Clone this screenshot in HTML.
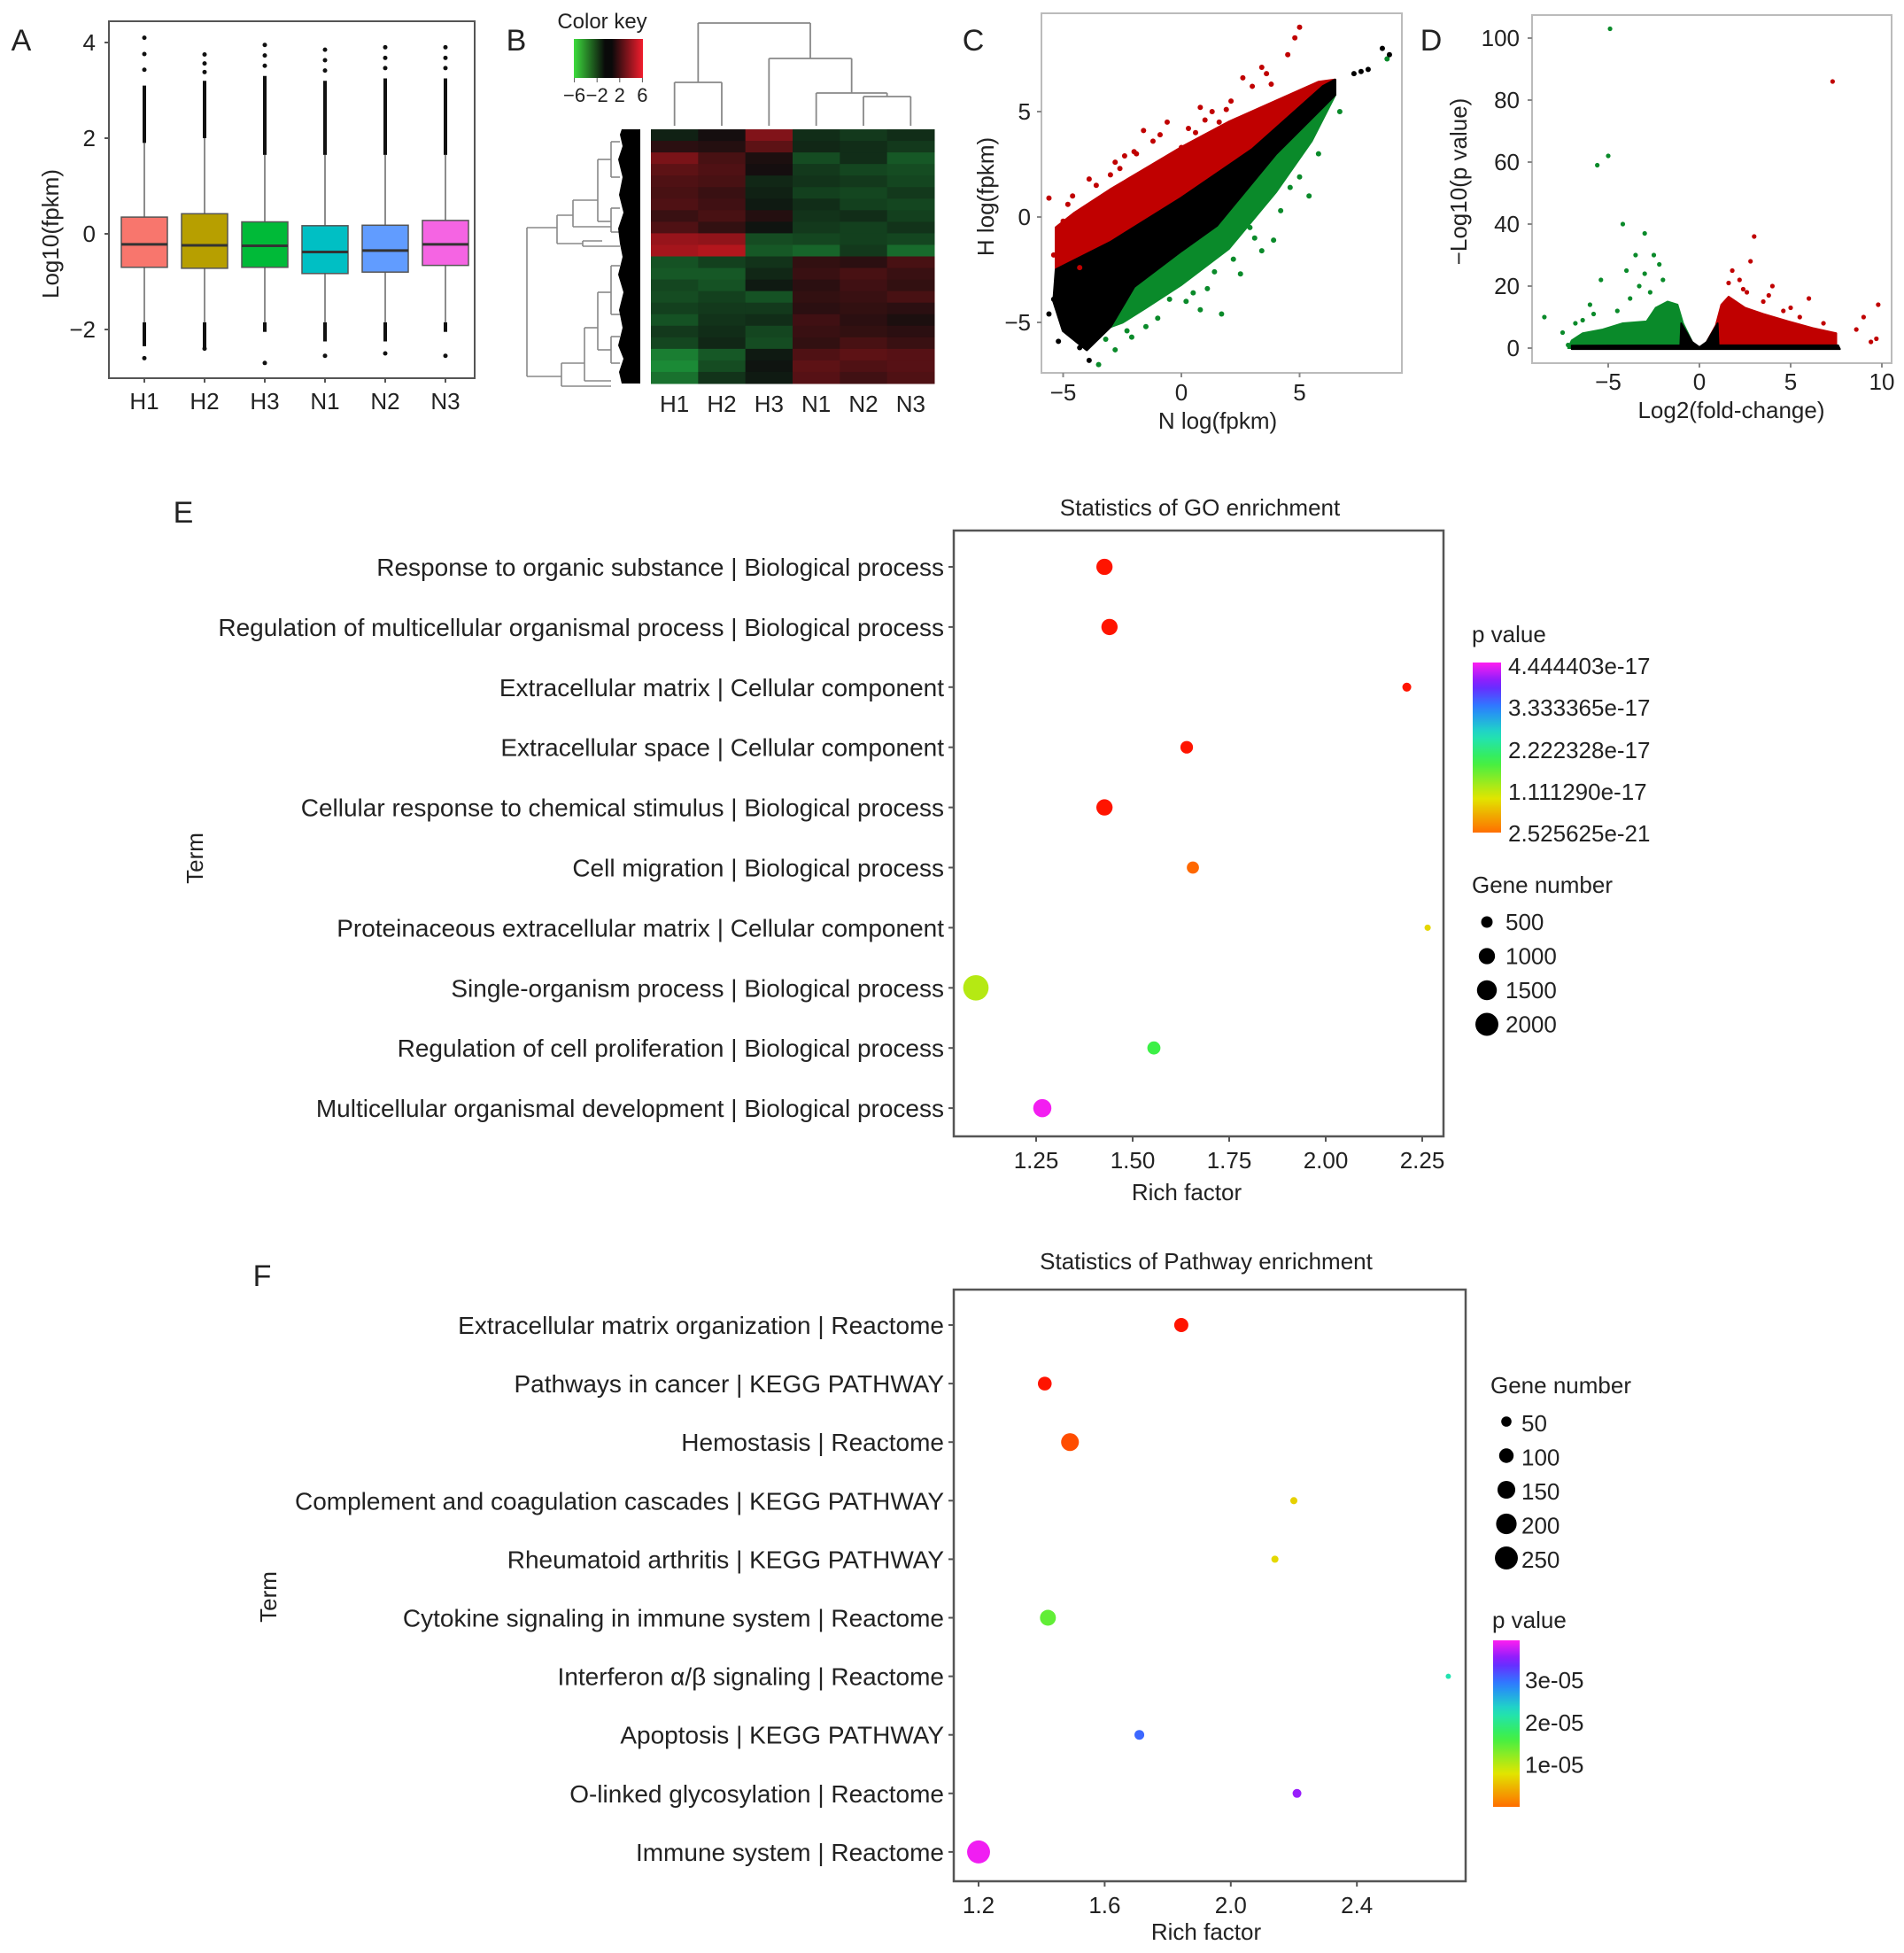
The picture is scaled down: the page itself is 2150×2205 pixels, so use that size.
<!DOCTYPE html>
<html><head><meta charset="utf-8"><style>
html,body{margin:0;padding:0;background:#fff;}
svg{display:block;font-family:"Liberation Sans",Arial,sans-serif;}
</style></head><body>
<svg id="fig" xmlns="http://www.w3.org/2000/svg" width="2150" height="2205" viewBox="0 0 2150 2205">
<rect width="2150" height="2205" fill="#fff"/>
</svg>
<script>
// ===== Panel A data =====
const boxSamples=["H1","H2","H3","N1","N2","N3"];
const boxQ1=[-0.70,-0.72,-0.70,-0.83,-0.80,-0.66];
const boxMed=[-0.22,-0.24,-0.25,-0.38,-0.35,-0.22];
const boxQ3=[0.35,0.42,0.25,0.17,0.18,0.28];
const boxWhiskHi=[1.90,2.00,1.65,1.65,1.65,1.65];
const boxWhiskLo=[-1.85,-1.85,-1.85,-1.85,-1.85,-1.85];
const boxOutHi=[4.10,3.75,3.95,3.85,3.90,3.90];
const boxOutLo=[-2.60,-2.40,-2.70,-2.55,-2.50,-2.55];
const boxDenseHi=[3.10,3.20,3.30,3.20,3.25,3.25];
const boxDenseLo=[-2.35,-2.40,-2.05,-2.25,-2.25,-2.05];
const boxColors=["#f8766d","#b79f00","#00ba38","#00bfc4","#619cff","#f564e3"];
const boxYTicks=[-2,0,2,4];
// ===== Panel B data =====
const heatCols=["H1","H2","H3","N1","N2","N3"];
const heatVals=[
[-0.3,0.1,1.6,-0.5,-0.7,-0.5],
[0.4,0.3,1.1,-0.4,-0.5,-0.7],
[1.5,0.8,0.2,-1.0,-0.5,-1.2],
[1.1,0.9,0.1,-0.7,-0.9,-1.0],
[0.9,0.8,-0.4,-0.6,-0.7,-0.9],
[0.8,0.6,-0.3,-0.8,-0.9,-0.7],
[0.9,0.7,-0.2,-0.5,-0.8,-0.9],
[0.6,0.8,0.3,-0.6,-0.5,-0.8],
[0.9,0.5,-0.1,-0.7,-0.8,-0.6],
[1.9,1.8,-1.0,-0.9,-0.8,-0.9],
[2.1,2.3,-1.2,-1.4,-0.7,-1.5],
[-1.1,-0.8,-0.6,0.5,0.4,0.8],
[-1.2,-1.2,-0.4,0.6,0.8,0.6],
[-0.9,-1.1,-0.2,0.4,0.7,0.5],
[-1.0,-0.8,-1.1,0.5,0.6,0.8],
[-0.8,-0.7,-0.7,0.4,0.5,0.4],
[-1.1,-0.6,-0.5,0.7,0.4,0.2],
[-0.7,-0.5,-0.9,0.6,0.5,0.4],
[-0.9,-0.4,-1.0,0.5,0.8,0.6],
[-1.8,-1.2,-0.2,0.9,1.1,1.0],
[-2.0,-1.0,-0.1,1.1,0.9,1.0],
[-1.6,-0.6,-0.2,1.0,0.7,0.9]
];
const keyTicks=[-6,-2,2,6];
// ===== Panel C data =====
const cTicksX=[-5,0,5], cTicksY=[-5,0,5];
const cRedPoly=[[-5.3,-0.5],[-4.5,0.2],[-3,1.3],[-1.5,2.3],[0,3.3],[2,4.5],[4.6,5.8],[5.8,6.4],[6.5,6.5],[6,6.2],[3,3.2],[0,0.9],[-3,-1.2],[-5.3,-2.5]];
const cBlackPoly=[[-5.3,-2.5],[-3,-1.2],[0,0.9],[3,3.2],[6,6.2],[6.5,6.5],[6.5,5.8],[4,3.0],[1.5,-0.4],[0,-1.6],[-2,-3.3],[-3,-5.2],[-4,-6.3],[-5,-5.4],[-5.4,-4.0]];
const cGreenPoly=[[-3,-5.2],[-2,-3.3],[0,-1.6],[1.5,-0.4],[4,3.0],[6.5,5.8],[5.5,3.6],[4,1.2],[2,-1.5],[0,-3.2],[-1.5,-4.3],[-2.5,-5.0]];
const cRedX=[-5.6,-4.8,-4.0,-3.6,-3.0,-2.6,-2.0,-1.2,-0.6,-0.4,0.3,0.8,1.3,1.6,2.1,2.6,3.0,3.4,3.8,4.5,4.8,5.0,-4.3,-3.3,-2.2,-1.6,0.0,-5.0,-4.6,-3.9,-2.8,-1.9,-0.9,0.6,1.9,3.6,-5.4,-2.4,1.0];
const cRedY=[0.9,0.6,0.2,1.5,2.0,2.3,3.1,3.6,4.5,2.8,4.2,5.2,5.0,4.5,5.5,6.6,6.2,7.1,6.3,7.7,8.5,9.0,-2.4,0.8,1.6,4.1,3.3,-0.2,1.0,1.8,2.6,3.0,3.9,4.0,5.1,6.8,-1.8,2.9,4.6];
const cGreenX=[-3.5,-2.8,-2.1,-1.0,0.2,1.1,1.7,2.5,3.4,3.9,4.6,5.4,6.7,8.7,-1.5,0.8,2.9,-3.2,-2.3,-0.5,0.5,1.4,2.2,3.1,4.2,5.0,5.8];
const cGreenY=[-7.0,-6.3,-5.7,-4.8,-4.0,-3.4,-4.6,-2.7,-1.6,-1.1,1.4,1.0,5.0,7.5,-5.2,-4.4,-0.5,-5.8,-5.4,-3.9,-3.6,-2.6,-2.0,-1.0,0.3,1.9,3.0];
const cBlackX=[-5.4,-4.9,-4.3,-3.9,-3.6,-4.6,7.3,7.6,7.9,8.5,8.8,-5.0,-5.6,-5.2];
const cBlackY=[-3.9,-4.2,-6.2,-6.8,-5.5,-5.0,6.8,6.9,7.0,8.0,7.7,-3.0,-4.6,-5.9];
// ===== Panel D data =====
const dTicksX=[-5,0,5,10], dTicksY=[0,20,40,60,80,100];
const dGreenPoly=[[-7.2,0],[-7.0,2.5],[-6.4,4.8],[-5.3,6],[-4.2,8],[-2.9,8.6],[-2.4,13],[-1.75,15],[-1.2,14],[-0.9,8],[-0.4,2],[-0.6,0]];
const dRedPoly=[[0.6,0],[0.4,2],[0.9,7.3],[1.2,14],[1.6,16.6],[2.5,13],[3.5,11],[4.9,8.6],[6.2,6.5],[7.5,4.8],[7.5,1],[7.3,0]];
const dBlackPoly=[[-1.0,8],[-0.4,2],[0,0.3],[0.4,2],[1.0,8],[1.05,0.9],[7.6,0.9],[7.7,-0.3],[-7.0,-0.3],[-7.0,0.8],[-1.05,0.9]];
const dGreenX=[-4.9,-5.0,-5.6,-4.2,-3.0,-2.5,-3.5,-2.2,-4.0,-8.5,-5.4,-6.0,-7.5,-3.3,-2.7,-4.5,-6.8,-7.2,-3.8,-2.0,-3.0,-6.4,-5.8];
const dGreenY=[103,62,59,40,37,30,30,27,25,10,22,14,5,20,18,12,8,1,16,22,24,9,11];
const dRedX=[7.3,3.0,2.8,1.8,2.2,4.0,6.0,9.8,9.0,5.5,9.7,2.6,3.5,4.6,6.8,8.6,9.4,1.6,2.4,3.8,5.0];
const dRedY=[86,36,28,25,22,20,16,14,10,10,3,18,15,12,8,6,2,21,19,17,13];
// ===== Panel E data =====
const goTerms=["Response to organic substance | Biological process","Regulation of multicellular organismal process | Biological process","Extracellular matrix | Cellular component","Extracellular space | Cellular component","Cellular response to chemical stimulus | Biological process","Cell migration | Biological process","Proteinaceous extracellular matrix | Cellular component","Single-organism process | Biological process","Regulation of cell proliferation | Biological process","Multicellular organismal development | Biological process"];
const goRich=[1.427,1.44,2.21,1.64,1.427,1.656,2.264,1.094,1.555,1.266];
const goGenes=[1000,1000,300,600,1000,560,150,2450,650,1250];
const goP=[0.0,0.0,0.0,0.0,0.0,0.25,1.0,1.35,2.0,4.4]; // e-17
const goTicks=[1.25,1.50,1.75,2.00,2.25];
const goTickLabels=["1.25","1.50","1.75","2.00","2.25"];
const goPLegend=["4.444403e-17","3.333365e-17","2.222328e-17","1.111290e-17","2.525625e-21"];
const goSizeLegend=[500,1000,1500,2000];
// ===== Panel F data =====
const pwTerms=["Extracellular matrix organization | Reactome","Pathways in cancer | KEGG PATHWAY","Hemostasis | Reactome","Complement and coagulation cascades | KEGG PATHWAY","Rheumatoid arthritis | KEGG PATHWAY","Cytokine signaling in immune system | Reactome","Interferon α/β signaling | Reactome","Apoptosis | KEGG PATHWAY","O-linked glycosylation | Reactome","Immune system | Reactome"];
const pwRich=[1.843,1.41,1.49,2.20,2.14,1.42,2.69,1.71,2.21,1.20];
const pwGenes=[95,90,150,24,24,120,13,45,37,250];
const pwP=[0.0,0.0,0.15,0.85,0.9,1.6,2.3,3.1,3.6,3.9]; // e-05
const pwTicks=[1.2,1.6,2.0,2.4];
const pwTickLabels=["1.2","1.6","2.0","2.4"];
const pwPLegendVals=[3,2,1];
const pwPLegend=["3e-05","2e-05","1e-05"];
const pwSizeLegend=[50,100,150,200,250];

const NS="http://www.w3.org/2000/svg";
const svg=document.getElementById('fig');
function el(tag,attrs,parent){const e=document.createElementNS(NS,tag);for(const k in attrs)e.setAttribute(k,attrs[k]);(parent||svg).appendChild(e);return e;}
function txt(s,x,y,size,anchor,parent,extra){const t=el('text',Object.assign({x:x,y:y,'font-size':size,'text-anchor':anchor||'middle',fill:'#222'},extra||{}),parent);t.textContent=s;return t;}
function grp(name){const g=el('g',{});return g;}
function poly(pts,sx,sy){return pts.map(p=>sx(p[0]).toFixed(1)+','+sy(p[1]).toFixed(1)).join(' ');}

// ===== Panel A =====
(function(){
const g=grp('panel-a-boxplot');
const yA=v=>264-v*54, xA=i=>163+i*68;
const lab=txt('A',24,57,34,'middle',g);
const fr=el('rect',{x:123,y:24,width:413,height:403,fill:'none',stroke:'#555','stroke-width':2},g);

boxYTicks.forEach(v=>{el('line',{x1:118,x2:123,y1:yA(v),y2:yA(v),stroke:'#555','stroke-width':2},g);
 const t=txt(v<0?'\u2212'+(-v):String(v),108,yA(v)+9,26,'end',g);});
const yt=txt('Log10(fpkm)',0,0,26,'middle',g,{transform:'translate(66,264) rotate(-90)'});

boxSamples.forEach((s,i)=>{const x=xA(i);
 el('line',{x1:x,x2:x,y1:yA(boxWhiskHi[i]),y2:yA(boxWhiskLo[i]),stroke:'#666','stroke-width':1.5},g);
 const d1=el('line',{x1:x,x2:x,y1:yA(boxDenseHi[i]),y2:yA(boxWhiskHi[i]),stroke:'#111','stroke-width':4},g);
 
 el('line',{x1:x,x2:x,y1:yA(boxWhiskLo[i]),y2:yA(boxDenseLo[i]),stroke:'#111','stroke-width':4},g);
 [0.33,0.66,1].forEach(f=>{el('circle',{cx:x,cy:yA(boxDenseHi[i]+(boxOutHi[i]-boxDenseHi[i])*f),r:2.5,fill:'#111'},g);});
 el('circle',{cx:x,cy:yA(boxOutLo[i]),r:2.5,fill:'#111'},g);
 const b=el('rect',{x:x-26,y:yA(boxQ3[i]),width:52,height:yA(boxQ1[i])-yA(boxQ3[i]),fill:boxColors[i],stroke:'#555','stroke-width':1.5},g);
 
 el('line',{x1:x-26,x2:x+26,y1:yA(boxMed[i]),y2:yA(boxMed[i]),stroke:'#333','stroke-width':3},g);
 el('line',{x1:x,x2:x,y1:427,y2:432,stroke:'#555','stroke-width':2},g);
 const t=txt(s,x,462,26,'middle',g);
});
})();

// ===== Panel B =====
(function(){
const g=grp('panel-b-heatmap');
const lab=txt('B',583,57,34,'middle',g);
const ck=txt('Color key',680,32,24,'middle',g);
const defs=el('defs',{},g);
const lg=el('linearGradient',{id:'ckg',x1:0,x2:1,y1:0,y2:0},defs);
[['0','#3ddc3d'],['0.45','#0a0a0a'],['0.55','#0a0a0a'],['1','#f21d2d']].forEach(s=>el('stop',{offset:s[0],'stop-color':s[1]},lg));
const kx=v=>687+v*6.4;
const kr=el('rect',{x:648,y:44,width:78,height:44,fill:'url(#ckg)'},g);
keyTicks.forEach(v=>{el('line',{x1:kx(v),x2:kx(v),y1:88,y2:93,stroke:'#555'},g);
 const t=txt(v<0?'\u2212'+(-v):String(v),kx(v),115,22,'middle',g);});
const hx=735,hy=146,cw=(1055-735)/6,rh=(433-146)/heatVals.length;
function col(v){const a=Math.min(1,Math.abs(v)/3);const base=14;
 if(v>=0)return 'rgb('+Math.round(base+a*(230-base))+','+Math.round(base+a*10)+','+Math.round(base+a*20)+')';
 return 'rgb('+Math.round(base+a*20)+','+Math.round(base+a*(200-base))+','+Math.round(base+a*60)+')';}
heatVals.forEach((row,r)=>row.forEach((v,c)=>{const cell=el('rect',{x:hx+c*cw,y:hy+r*rh,width:cw+0.5,height:rh+0.5,fill:col(v)},g);
 }));
heatCols.forEach((s,i)=>{const t=txt(s,hx+cw*(i+0.5),465,26,'middle',g);});
const cx=i=>hx+cw*(i+0.5);
const dg=grp('column-dendrogram');g.appendChild(dg);
const L=(x1,y1,x2,y2)=>el('line',{x1:x1,y1:y1,x2:x2,y2:y2,stroke:'#888','stroke-width':1.8},dg);
const n56=(cx(4)+cx(5))/2, n456=(cx(3)+n56)/2, n3456=(cx(2)+n456)/2, n12=(cx(0)+cx(1))/2;
L(cx(0),142,cx(0),93);L(cx(1),142,cx(1),93);L(cx(0),93,cx(1),93);
L(cx(4),142,cx(4),109);L(cx(5),142,cx(5),109);L(cx(4),109,cx(5),109);
L(cx(3),142,cx(3),105);L(n56,109,n56,105);L(cx(3),105,n56,105);
L(cx(2),142,cx(2),66);L(n456,105,n456,66);L(cx(2),66,n456,66);
L(n12,93,n12,26);L(n3456,66,n3456,26);L(n12,26,n3456,26);
const rg=grp('row-dendrogram');g.appendChild(rg);
const R=(x1,y1,x2,y2)=>el('line',{x1:x1,y1:y1,x2:x2,y2:y2,stroke:'#888','stroke-width':1.6},rg);
R(595,257,595,425);R(595,257,629,257);R(595,425,634,425);
R(629,243,629,275);R(629,243,647,243);R(629,275,658,275);
R(658,272,658,278);R(658,272,680,272);R(658,278,700,278);
R(647,226,647,256);R(647,226,675,226);R(647,256,690,256);
R(675,180,675,250);R(675,180,690,180);R(675,250,690,250);
R(690,160,690,200);R(690,160,700,160);R(690,200,700,200);
R(690,235,690,262);R(690,235,700,235);R(690,262,700,262);
R(634,410,634,436);R(634,410,660,410);R(634,436,690,436);
R(660,370,660,430);R(660,370,675,370);R(660,430,690,430);
R(675,330,675,395);R(675,330,690,330);R(675,395,690,395);
R(690,300,690,355);R(690,300,700,300);R(690,355,700,355);
R(690,380,690,410);R(690,380,700,380);R(690,410,700,410);
const leaf=el('polygon',{points:'702,146 723,146 723,433 702,433 699,420 704,405 698,390 703,370 699,350 704,330 698,310 703,290 700,275 698,258 704,240 699,220 703,200 698,180 703,165 700,152',fill:'#000'},rg);

})();

// ===== Panel C =====
(function(){
const g=grp('panel-c-scatter');
const sx=v=>1334+v*26.7, sy=v=>245-v*23.8;
const lab=txt('C',1099,57,34,'middle',g);
const fr=el('rect',{x:1176,y:15,width:407,height:406,fill:'none',stroke:'#bbb','stroke-width':2},g);
[[cRedPoly,'#c00000','red-cloud'],[cGreenPoly,'#0a8a2a','green-cloud'],[cBlackPoly,'#000','black-cloud']].forEach(p=>{
 const e=el('polygon',{points:poly(p[0],sx,sy),fill:p[1],stroke:p[1],'stroke-width':3,'stroke-linejoin':'round'},g);});
cRedX.forEach((x,i)=>{const c=el('circle',{cx:sx(x),cy:sy(cRedY[i]),r:3,fill:'#c00000'},g);});
cGreenX.forEach((x,i)=>{const c=el('circle',{cx:sx(x),cy:sy(cGreenY[i]),r:3,fill:'#0a8a2a'},g);});
cBlackX.forEach((x,i)=>{const c=el('circle',{cx:sx(x),cy:sy(cBlackY[i]),r:3,fill:'#000'},g);});
cTicksX.forEach(v=>{el('line',{x1:sx(v),x2:sx(v),y1:421,y2:426,stroke:'#888','stroke-width':2},g);const t=txt(v<0?'\u2212'+(-v):String(v),sx(v),452,26,'middle',g);});
cTicksY.forEach(v=>{el('line',{x1:1171,x2:1176,y1:sy(v),y2:sy(v),stroke:'#888','stroke-width':2},g);const t=txt(v<0?'\u2212'+(-v):String(v),1164,sy(v)+9,26,'end',g);});
const xt=txt('N log(fpkm)',1375,484,26,'middle',g);
const yt=txt('H log(fpkm)',0,0,26,'middle',g,{transform:'translate(1122,222) rotate(-90)'});
})();

// ===== Panel D =====
(function(){
const g=grp('panel-d-volcano');
const sx=v=>1919+v*20.6, sy=v=>393-v*3.5;
const lab=txt('D',1616,57,34,'middle',g);
const fr=el('rect',{x:1730,y:17,width:406,height:393,fill:'none',stroke:'#bbb','stroke-width':2},g);
[[dGreenPoly,'#0a8a2a','green-cloud'],[dRedPoly,'#c00000','red-cloud'],[dBlackPoly,'#000','black-cloud']].forEach(p=>{
 const e=el('polygon',{points:poly(p[0],sx,sy),fill:p[1],stroke:p[1],'stroke-width':2,'stroke-linejoin':'round'},g);});
dGreenX.forEach((x,i)=>{const c=el('circle',{cx:sx(x),cy:sy(dGreenY[i]),r:2.6,fill:'#0a8a2a'},g);});
dRedX.forEach((x,i)=>{const c=el('circle',{cx:sx(x),cy:sy(dRedY[i]),r:2.6,fill:'#c00000'},g);});
dTicksX.forEach(v=>{el('line',{x1:sx(v),x2:sx(v),y1:410,y2:415,stroke:'#888','stroke-width':2},g);const t=txt(v<0?'\u2212'+(-v):String(v),sx(v),440,26,'middle',g);});
dTicksY.forEach(v=>{el('line',{x1:1725,x2:1730,y1:sy(v),y2:sy(v),stroke:'#888','stroke-width':2},g);const t=txt(String(v),1716,sy(v)+9,26,'end',g);});
const xt=txt('Log2(fold-change)',1955,472,26,'middle',g);
const yt=txt('\u2212Log10(p value)',0,0,26,'middle',g,{transform:'translate(1656,205) rotate(-90)'});
})();

// ===== gradient helper =====
const gradStops=[[0,[255,20,0]],[0.06,[255,110,0]],[0.25,[225,230,0]],[0.45,[60,240,70]],[0.6,[30,225,190]],[0.75,[40,130,255]],[0.88,[115,30,255]],[1,[255,30,240]]];
function gcol(t){t=Math.max(0,Math.min(1,t));for(let i=1;i<gradStops.length;i++){if(t<=gradStops[i][0]){const a=gradStops[i-1],b=gradStops[i],f=(t-a[0])/(b[0]-a[0]);return 'rgb('+a[1].map((c,k)=>Math.round(c+(b[1][k]-c)*f)).join(',')+')';}}return 'rgb(255,30,240)';}
function gradDef(id){const defs=el('defs',{});const lg=el('linearGradient',{id:id,x1:0,x2:0,y1:1,y2:0},defs);
 for(let i=0;i<=20;i++){const t=0.06+0.94*i/20;el('stop',{offset:(i/20).toFixed(2),'stop-color':gcol(t)},lg);}}
gradDef('pg');

function dotPlot(cfg){
const g=grp(cfg.name);
const lab=txt(cfg.letter,cfg.letterX,cfg.letterY,34,'middle',g);
const ti=txt(cfg.title,cfg.titleX,cfg.titleY,26,'middle',g);
const fr=el('rect',{x:cfg.L,y:cfg.T,width:cfg.R-cfg.L,height:cfg.B-cfg.T,fill:'none',stroke:'#555','stroke-width':2.5},g);
const sx=v=>cfg.x0+(v-cfg.v0)*cfg.kx, sy=i=>cfg.row0+i*cfg.dy;
cfg.terms.forEach((s,i)=>{el('line',{x1:cfg.L-6,x2:cfg.L,y1:sy(i),y2:sy(i),stroke:'#555','stroke-width':2},g);
 const t=txt(s,cfg.L-11,sy(i)+10,28,'end',g,{fill:'#222'});});
cfg.ticks.forEach((v,i)=>{el('line',{x1:sx(v),x2:sx(v),y1:cfg.B,y2:cfg.B+6,stroke:'#555','stroke-width':2},g);
 const t=txt(cfg.tickLabels[i],sx(v),cfg.B+36,26,'middle',g);});
const xt=txt('Rich factor',cfg.xtX,cfg.xtY,26,'middle',g);
const yt=txt('Term',0,0,26,'middle',g,{transform:'translate('+cfg.termX+','+cfg.termY+') rotate(-90)'});
cfg.rich.forEach((v,i)=>{const c=el('circle',{cx:sx(v),cy:sy(i),r:cfg.k*Math.sqrt(cfg.genes[i]),fill:gcol(cfg.p[i]/cfg.pmax)},g);
 });
return g;}

// ===== Panel E =====
(function(){
const g=dotPlot({name:'panel-e-go-dotplot',letter:'E',letterX:207,letterY:590,title:'Statistics of GO enrichment',titleX:1355,titleY:582,
 L:1077,R:1630,T:599,B:1283,x0:1170,v0:1.25,kx:436,row0:640,dy:67.9,terms:goTerms,ticks:goTicks,tickLabels:goTickLabels,
 xtX:1340,xtY:1355,termX:229,termY:969,rich:goRich,genes:goGenes,p:goP,pmax:4.444,k:0.29});
const pv=txt('p value',1662,725,26,'start',g);
const bar=el('rect',{x:1663,y:748,width:32,height:192,fill:'url(#pg)'},g);
const ly=[752,799,847,894,941];
goPLegend.forEach((s,i)=>{const t=txt(s,1703,ly[i]+9,26,'start',g);});
const gn=txt('Gene number',1662,1008,26,'start',g);
goSizeLegend.forEach((n,i)=>{const y=1041+i*38.5;const c=el('circle',{cx:1679,cy:y,r:0.29*Math.sqrt(n),fill:'#000'},g);
 const t=txt(String(n),1700,y+9,26,'start',g);});
})();

// ===== Panel F =====
(function(){
const g=dotPlot({name:'panel-f-pathway-dotplot',letter:'F',letterX:296,letterY:1452,title:'Statistics of Pathway enrichment',titleX:1362,titleY:1433,
 L:1077,R:1655,T:1456,B:2124,x0:1105,v0:1.2,kx:356,row0:1496,dy:66.1,terms:pwTerms,ticks:pwTicks,tickLabels:pwTickLabels,
 xtX:1362,xtY:2190,termX:312,termY:1803,rich:pwRich,genes:pwGenes,p:pwP,pmax:3.95,k:0.82});
const gn=txt('Gene number',1683,1573,26,'start',g);
pwSizeLegend.forEach((n,i)=>{const y=1605+i*38.5;const c=el('circle',{cx:1701,cy:y,r:0.82*Math.sqrt(n),fill:'#000'},g);
 const t=txt(String(n),1718,y+11,26,'start',g);});
const pv=txt('p value',1685,1838,26,'start',g);
const bar=el('rect',{x:1686,y:1852,width:30,height:188,fill:'url(#pg)'},g);
const by=v=>2040-(v/3.95)*188;
pwPLegendVals.forEach((v,i)=>{const t=txt(pwPLegend[i],1722,by(v)+9,26,'start',g);});
})();
</script>
</body></html>
